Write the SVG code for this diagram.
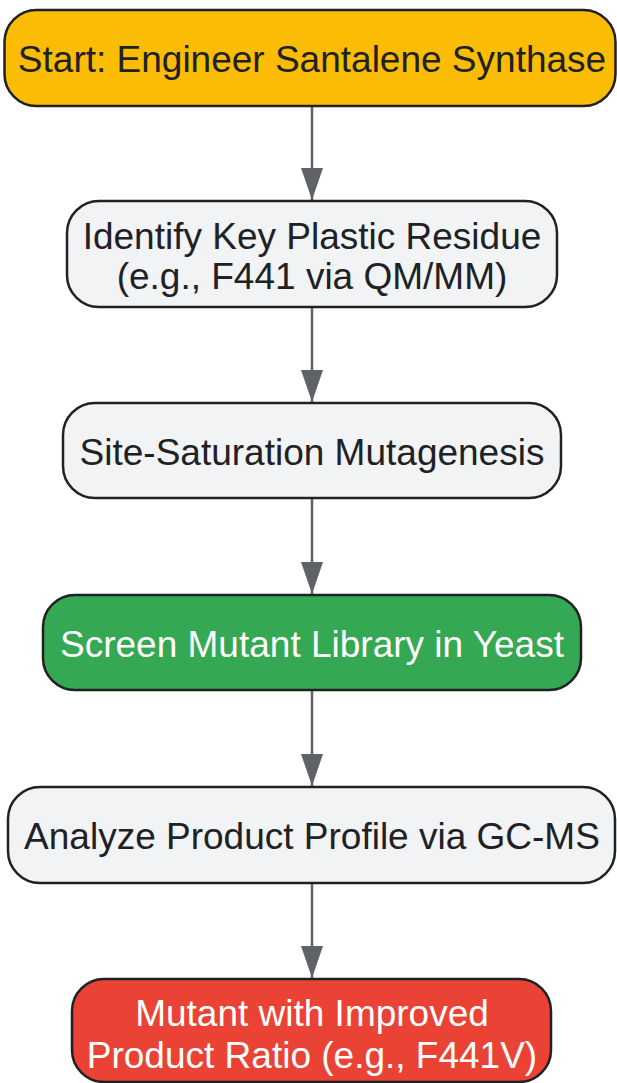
<svg xmlns="http://www.w3.org/2000/svg" width="617" height="1083" viewBox="0 0 617 1083">
<defs>
<style>
.box{stroke:#202124;stroke-width:2.5}
.t{font-family:"Liberation Sans",Arial,sans-serif;font-size:37px;text-anchor:middle;fill:#202124}
.w{fill:#ffffff}
.edge{stroke:#5f6368;stroke-width:2.5;fill:none}
</style>
<marker id="arr" markerUnits="userSpaceOnUse" markerWidth="32" markerHeight="22" refX="32" refY="11" orient="auto">
<path d="M0,0 L32,11 L0,22 Z" fill="#5f6368"/>
</marker>
</defs>
<rect width="617" height="1083" fill="#ffffff"/>
<g id="connectors">
<line class="edge" x1="312" y1="106" x2="312" y2="200" marker-end="url(#arr)"/>
<line class="edge" x1="312" y1="307" x2="312" y2="402" marker-end="url(#arr)"/>
<line class="edge" x1="312" y1="498" x2="312" y2="594" marker-end="url(#arr)"/>
<line class="edge" x1="312" y1="690" x2="312" y2="786" marker-end="url(#arr)"/>
<line class="edge" x1="312" y1="883" x2="312" y2="978" marker-end="url(#arr)"/>
</g>
<g id="n1">
<rect class="box" x="4.5" y="10" width="611" height="96" rx="32" fill="#FBBC05"/>
<text class="t" x="312" y="72">Start: Engineer Santalene Synthase</text>
</g>
<g id="n2">
<rect class="box" x="67" y="201" width="490" height="106" rx="32" fill="#F1F3F4"/>
<text class="t" x="312" y="249">Identify Key Plastic Residue</text>
<text class="t" x="312" y="289">(e.g., F441 via QM/MM)</text>
</g>
<g id="n3">
<rect class="box" x="63" y="403" width="498" height="95" rx="32" fill="#F1F3F4"/>
<text class="t" x="312" y="465">Site-Saturation Mutagenesis</text>
</g>
<g id="n4">
<rect class="box" x="43" y="595" width="538" height="95" rx="32" fill="#34A853"/>
<text class="t w" x="312" y="657">Screen Mutant Library in Yeast</text>
</g>
<g id="n5">
<rect class="box" x="8" y="787" width="607" height="96" rx="32" fill="#F1F3F4"/>
<text class="t" x="312" y="849">Analyze Product Profile via GC-MS</text>
</g>
<g id="n6">
<rect class="box" x="72" y="979" width="479" height="103" rx="32" fill="#EA4335"/>
<text class="t w" x="312" y="1026">Mutant with Improved</text>
<text class="t w" x="312" y="1068">Product Ratio (e.g., F441V)</text>
</g>
</svg>
